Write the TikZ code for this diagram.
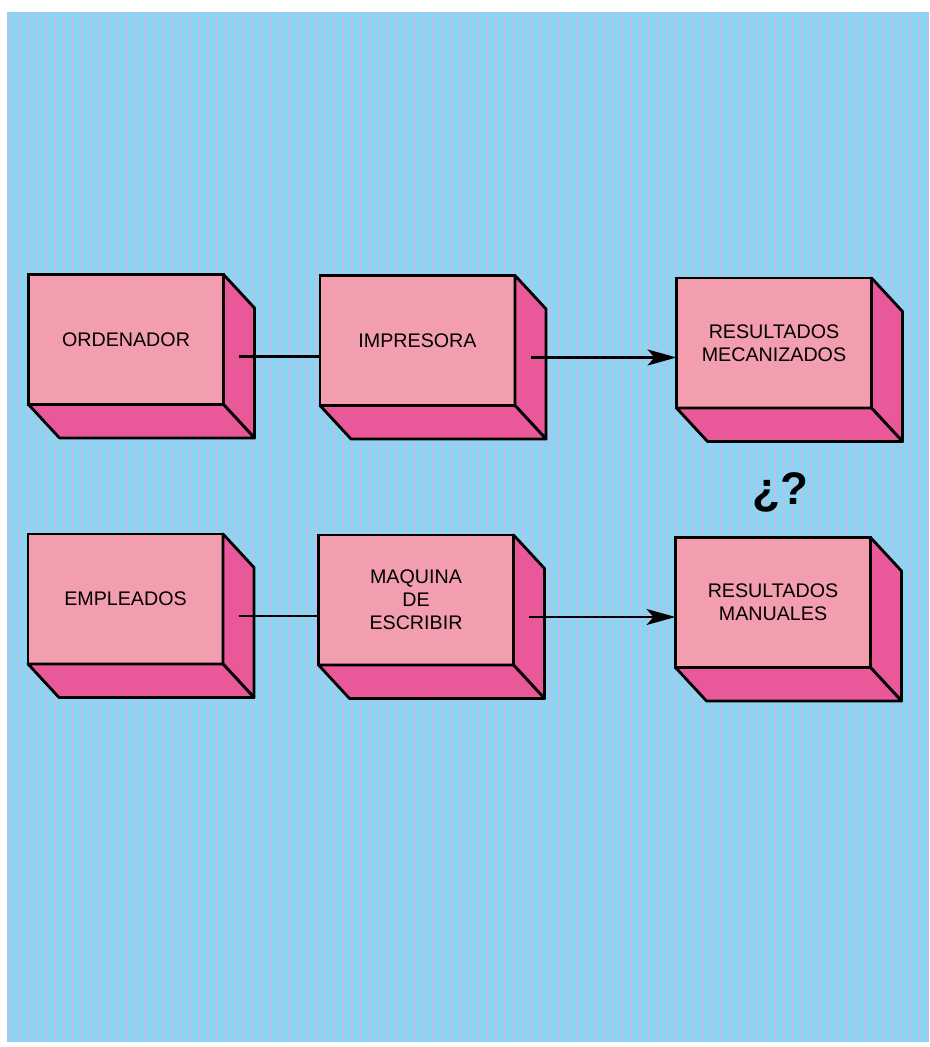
\documentclass[tikz,border=0pt]{standalone}
\usepackage{fontspec}
\setmainfont{Liberation Sans}
\usetikzlibrary{arrows.meta}
\usetikzlibrary{calc}

\definecolor{fondo}{RGB}{138,214,240}
\definecolor{raya}{RGB}{190,190,236}
\definecolor{frente}{RGB}{242,158,174}
\definecolor{lado}{RGB}{233,88,152}

% side and bottom faces of a box node, plus the middle of its side face
\newcommand{\caras}[1]{%
	\filldraw[lado,draw=black,line width=1.6pt,line join=round]
		(#1.north east) -- ++(0.62,-0.67) -- ($(#1.south east)+(0.62,-0.67)$) -- (#1.south east) -- cycle;
	\filldraw[lado,draw=black,line width=1.6pt,line join=round]
		(#1.south west) -- (#1.south east) -- ++(0.62,-0.67) -- ($(#1.south west)+(0.62,-0.67)$) -- cycle;
	\coordinate (#1-lado) at ($(#1.east)+(0.31,-0.34)$);
}

\begin{document}
\begin{tikzpicture}[
	caja/.style = {rectangle,
		draw,
		fill=frente,
		line width=1.6pt,
		minimum width=3.9cm,
		minimum height=2.6cm,
		outer sep=0pt,
		align=center,
		font=\fontsize{11.2}{13}\selectfont},
	linea/.style = {line width=1.3pt},
	flecha/.style = {line width=1.3pt,
		-{Stealth[length=0.58cm,width=0.32cm,inset=0.14cm]}}]
	
	\useasboundingbox (0,0) rectangle (18.58,20.94);
	
	% Background
	\fill[fondo] (0.14,0.1) rectangle (18.58,20.7);
	\begin{scope}
		\clip (0.14,0.1) rectangle (18.58,20.7);
		\foreach \x in {0.2,0.38,...,18.6}
			\draw[raya,line width=1.4pt] (\x,0.1) -- (\x,20.7);
	\end{scope}
	
	% Upper row
	\node[caja] (ord) at (2.52,14.15) {ORDENADOR};
	\node[caja] (imp) at (8.35,14.13) {IMPRESORA};
	\node[caja] (mec) at (15.48,14.08) {RESULTADOS\\MECANIZADOS};
	
	% Lower row
	\node[caja] (emp) at (2.51,8.96) {EMPLEADOS};
	\node[caja] (maq) at (8.32,8.94) {MAQUINA\\DE\\ESCRIBIR};
	\node[caja] (man) at (15.46,8.89) {RESULTADOS\\MANUALES};
	
	% Box depth
	\caras{ord}
	\caras{imp}
	\caras{mec}
	\caras{emp}
	\caras{maq}
	\caras{man}
	
	% Connections
	\draw[linea] (ord-lado) -- (ord-lado -| imp.west);
	\draw[flecha] (imp-lado) -- (imp-lado -| mec.west);
	\draw[linea] (emp-lado) -- (emp-lado -| maq.west);
	\draw[flecha] (maq-lado) -- (maq-lado -| man.west);
	
	% Question
	\node[font=\fontsize{26}{30}\selectfont\bfseries] (preg) at (15.6,11.1) {¿?};
	
\end{tikzpicture}
\end{document}
